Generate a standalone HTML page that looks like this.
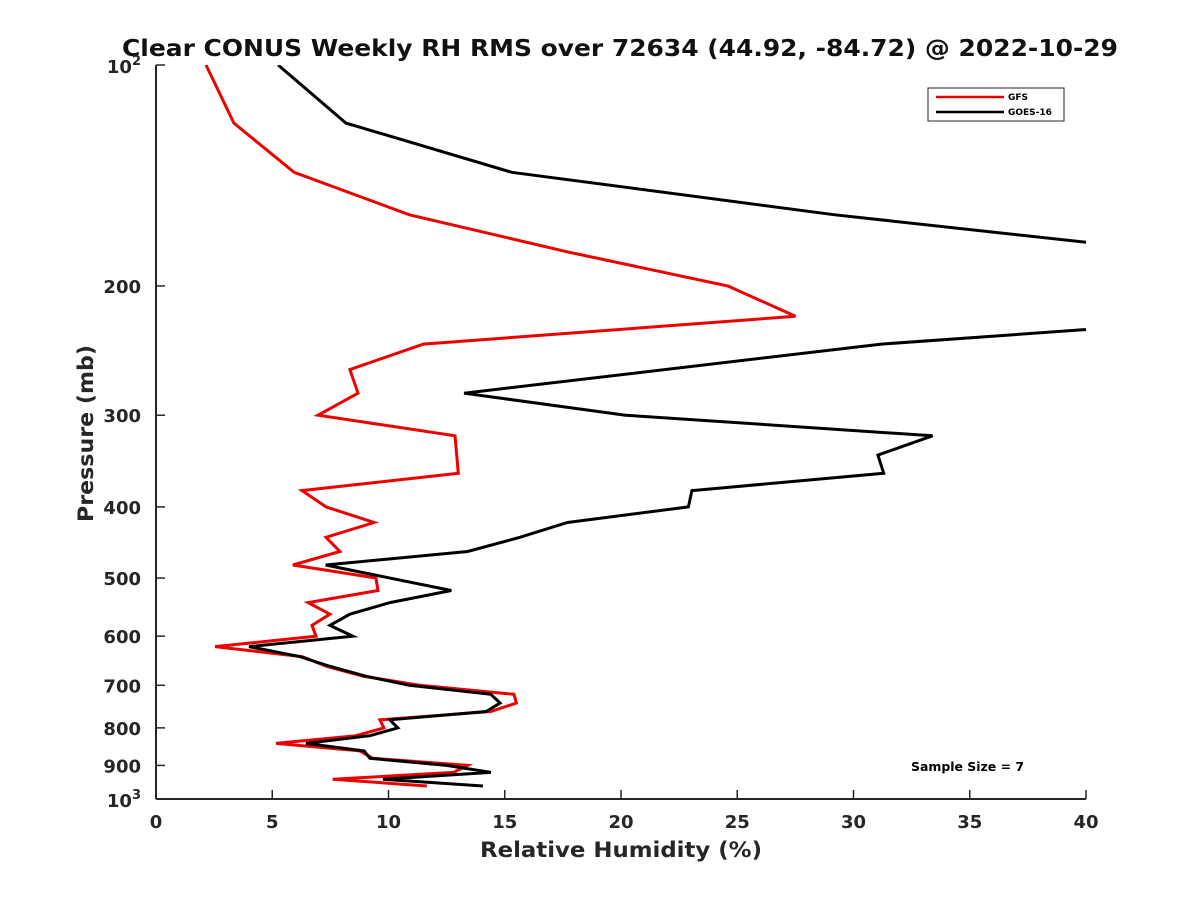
<!DOCTYPE html>
<html><head><meta charset="utf-8"><style>
body{margin:0;background:#fff}
svg{font-family:"DejaVu Sans","Liberation Sans",sans-serif}
</style></head><body>
<svg id="chart" width="1200" height="900" xmlns="http://www.w3.org/2000/svg">
<rect width="1200" height="900" fill="#fff"/>
<defs><clipPath id="plotclip"><rect x="156" y="65" width="930" height="734"/></clipPath></defs>
<text x="122" y="56" textLength="996" lengthAdjust="spacingAndGlyphs" font-size="23" font-weight="bold" fill="#111">Clear CONUS Weekly RH RMS over 72634 (44.92, -84.72) @ 2022-10-29</text>
<g id="axes"></g>
<g id="series" clip-path="url(#plotclip)"></g>
<text x="480" y="857" textLength="282" lengthAdjust="spacingAndGlyphs" font-size="21" font-weight="bold" fill="#262626">Relative Humidity (%)</text>
<text transform="translate(93,522) rotate(-90)" textLength="177" lengthAdjust="spacingAndGlyphs" font-size="21" font-weight="bold" fill="#262626">Pressure (mb)</text>
<g>
<rect x="928" y="88" width="136" height="33" fill="#fff" stroke="#262626" stroke-width="1"/>
<line x1="936" y1="97" x2="1004" y2="97" stroke="#ee0000" stroke-width="2.5"/>
<text x="1008" y="100" font-size="9" font-weight="bold">GFS</text>
<line x1="936" y1="112" x2="1004" y2="112" stroke="#000" stroke-width="2.5"/>
<text x="1008" y="115" font-size="9" font-weight="bold">GOES-16</text>
</g>
<text x="911" y="771" textLength="113" lengthAdjust="spacingAndGlyphs" font-size="12" font-weight="bold">Sample Size = 7</text>
</svg>
<script>
const xTicks=[0,5,10,15,20,25,30,35,40];
const yTicks=[200,300,400,500,600,700,800,900];
const gfsP=[100,120,140,160,180,200,220,240,260,280,300,320,360,380,400,420,440,460,480,500,520,540,560,580,600,620,640,660,680,700,720,740,760,780,800,820,840,860,880,900,920,940,960];
const gfsRH=[2.15,3.35,5.94,10.9,17.8,24.6,27.5,11.5,8.34,8.69,6.97,12.86,13.0,6.28,7.31,9.38,7.31,7.91,5.89,9.46,9.55,6.54,7.48,6.71,6.88,2.54,6.3,7.35,8.9,11.35,15.4,15.5,14.4,9.63,9.8,8.6,5.16,8.77,9.33,13.4,12.8,7.6,11.65];
const goesP=[100,120,140,160,180,200,220,240,280,300,320,340,360,380,400,420,440,460,480,520,540,560,580,600,620,640,660,680,700,720,740,760,780,800,820,840,860,880,900,920,940,960];
const goesRH=[5.25,8.17,15.3,29.2,44,52,48,31.2,13.25,20.2,33.4,31.05,31.3,23.05,22.9,17.7,15.65,13.4,7.3,12.7,10.06,8.34,7.48,8.47,4.0,6.2,7.5,9.0,10.9,14.4,14.8,14.2,10.06,10.4,9.2,6.45,8.95,9.2,12.5,14.4,9.76,14.06];
const X0=156,X1=1086,Y0=65,Y1=799;
const sx=v=>X0+(v-0)/(40-0)*(X1-X0);
const sy=p=>Y0+(Math.log10(p)-2)*(Y1-Y0);
const NS="http://www.w3.org/2000/svg";
const axes=document.getElementById('axes'),ser=document.getElementById('series');
function mk(t,a,par){const e=document.createElementNS(NS,t);for(const k in a)e.setAttribute(k,a[k]);par.appendChild(e);return e;}
const xl=mk('line',{x1:X0,y1:Y1,x2:X1,y2:Y1,stroke:'#262626','stroke-width':2},axes);


const yl=mk('line',{x1:X0,y1:Y0,x2:X0,y2:Y1,stroke:'#262626','stroke-width':2},axes);


xTicks.forEach(v=>{
 mk('line',{x1:sx(v),y1:Y1,x2:sx(v),y2:Y1-9,stroke:'#262626','stroke-width':1.5},axes);
 const t=mk('text',{x:sx(v),y:Y1+29,'text-anchor':'middle','font-size':18,'font-weight':'bold',fill:'#262626'},axes);
 t.textContent=v;
 
 
});
[100,1000].concat(yTicks).forEach(p=>{
 mk('line',{x1:X0,y1:sy(p),x2:X0+9,y2:sy(p),stroke:'#262626','stroke-width':1.5},axes);
});
yTicks.forEach(p=>{
 const t=mk('text',{x:X0-15,y:sy(p)+7,'text-anchor':'end','font-size':18,'font-weight':'bold',fill:'#262626'},axes);
 t.textContent=p;
 
 
});
[[100,'2'],[1000,'3']].forEach(([p,e])=>{
 const t=mk('text',{x:X0-15,y:sy(p)+8,'text-anchor':'end','font-size':18,'font-weight':'bold',fill:'#262626'},axes);
 t.innerHTML='10<tspan dy="-8" font-size="13">'+e+'</tspan>';
 
 
});
function line(P,V,col,name){
 const d=P.map((p,i)=>(i?'L':'M')+sx(V[i]).toFixed(1)+','+sy(p).toFixed(1)).join('');
 const e=mk('path',{d:d,fill:'none',stroke:col,'stroke-width':3,'stroke-linejoin':'miter'},ser);
 
 
}
line(gfsP,gfsRH,'#ee0000','gfs-line');
line(goesP,goesRH,'#000','goes16-line');
</script>
</body></html>
